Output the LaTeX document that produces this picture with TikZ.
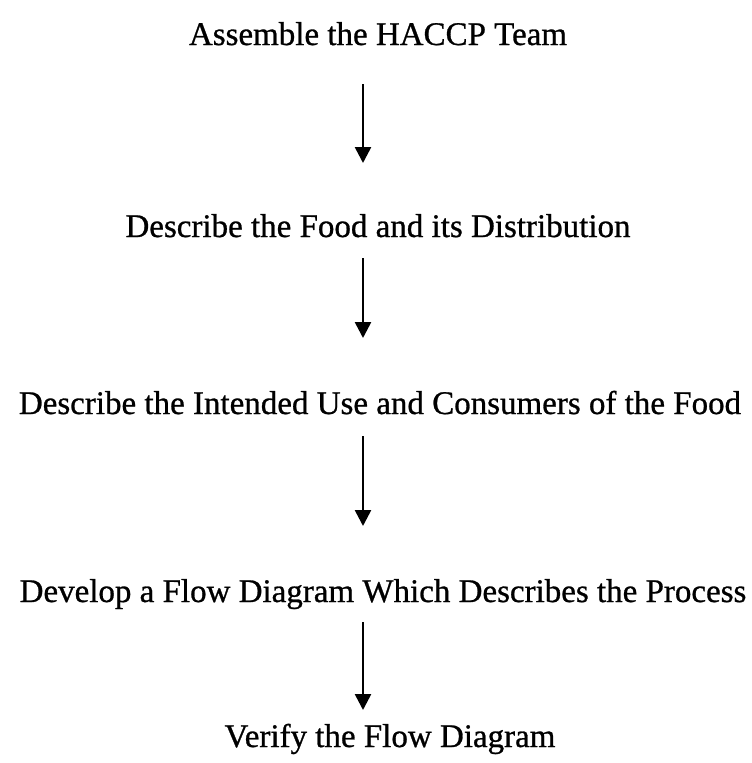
\documentclass[tikz,border=0pt]{standalone}
\usepackage{fontspec}
\setmainfont[FakeBold=0.8]{Liberation Serif}
\usetikzlibrary{arrows.meta}
\begin{document}
\begin{tikzpicture}[x=1pt,y=1pt,
  stage/.style={inner sep=0pt, font=\fontsize{33}{38}\selectfont, anchor=base},
  flow/.style={line width=2.6pt, -{Triangle[width=16pt,length=16pt]}}]
\useasboundingbox (0,0) rectangle (752,-763);
% process stages, placed by their baselines
\node[stage] (n1) at (378,-45)  {Assemble the HACCP Team};
\node[stage] (n2) at (378,-237) {Describe the Food and its Distribution};
\node[stage] (n3) at (380,-414) {Describe the Intended Use and Consumers of the Food};
\node[stage] (n4) at (383,-602) {Develop a Flow Diagram Which Describes the Process};
\node[stage] (n5) at (390,-747) {Verify the Flow Diagram};
% arrow end points
\coordinate (s1) at (363,-84);  \coordinate (e1) at (363,-163);
\coordinate (s2) at (363,-258); \coordinate (e2) at (363,-338);
\coordinate (s3) at (363,-436); \coordinate (e3) at (363,-526);
\coordinate (s4) at (363,-622); \coordinate (e4) at (363,-710);
\draw[flow] (s1) -- (e1);
\draw[flow] (s2) -- (e2);
\draw[flow] (s3) -- (e3);
\draw[flow] (s4) -- (e4);
\end{tikzpicture}
\end{document}
